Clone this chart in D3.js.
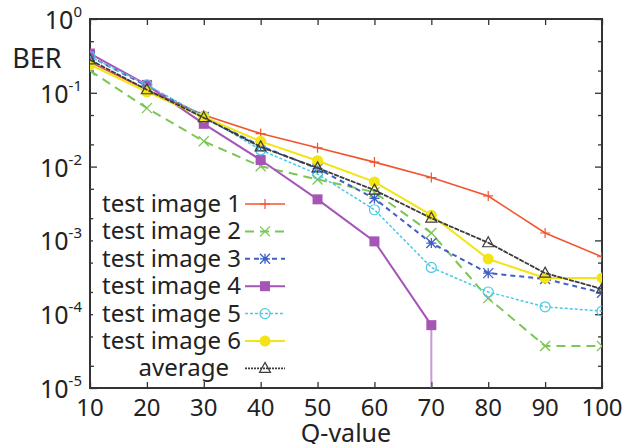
<!DOCTYPE html>
<html>
<head>
<meta charset="utf-8">
<script src="https://cdn.jsdelivr.net/npm/d3@7"></script>
<style>
  body { margin: 0; background: #fff; }
  svg text { font-family: "Noto Sans", "Open Sans", sans-serif; fill: #222; }
</style>
</head>
<body>
<svg id="chart"></svg>
<script>
const qValues = [10, 20, 30, 40, 50, 60, 70, 80, 90, 100];
const seriesNames = ['test image 1', 'test image 2', 'test image 3', 'test image 4',
  'test image 5', 'test image 6', 'average'];
const image1 = [0.26, 0.11, 0.05, 0.028, 0.018, 0.0115, 0.0071, 0.004, 0.00126, 0.0006];
const image2 = [0.2, 0.062, 0.022, 0.0101, 0.0067, 0.0045, 0.00126, 0.000165, 0.000037, 0.000037];
const image3 = [0.31, 0.124, 0.047, 0.019, 0.0094, 0.0037, 0.00092, 0.00036, 0.0003, 0.000195];
const image4 = [0.34, 0.128, 0.038, 0.0123, 0.0036, 0.00097, 0.000071, 0, 0, 0];
const image5 = [0.31, 0.128, 0.048, 0.0168, 0.0079, 0.0026, 0.00043, 0.0002, 0.000126, 0.00011];
const image6 = [0.24, 0.103, 0.047, 0.022, 0.012, 0.0062, 0.0022, 0.00056, 0.00031, 0.00031];
const average = [0.28, 0.11, 0.046, 0.0185, 0.0096, 0.0048, 0.002, 0.00093, 0.00036, 0.00022];
const decadeTicks = [1e-5, 1e-4, 1e-3, 1e-2, 1e-1, 1];
const decadeExponents = ['-5', '-4', '-3', '-2', '-1', '0'];
const minorTicks = [2e-5, 5e-5, 2e-4, 5e-4, 2e-3, 5e-3, 2e-2, 5e-2, 0.2, 0.5];

const width = 625;
const height = 444;
const plot = { left: 90, right: 602, top: 19, bottom: 388 };

const styles = [
  { color: '#f2542f', dash: null, w: 1.6, marker: 'plus' },
  { color: '#7cc655', dash: '9,6', w: 2, marker: 'cross' },
  { color: '#3f5fc2', dash: '5,4', w: 2, marker: 'star' },
  { color: '#a555b5', dash: null, w: 2, marker: 'square' },
  { color: '#4cc8e2', dash: '3,2', w: 1.5, marker: 'circle' },
  { color: '#f2e416', dash: null, w: 2, marker: 'dot' },
  { color: '#3c3c3c', dash: '5,1', w: 1.8, marker: 'triangle' },
];
const allSeries = [image1, image2, image3, image4, image5, image6, average];

const svg = d3.select('#chart').attr('width', width).attr('height', height);

const x = d3.scaleLinear().domain([10, 100]).range([plot.left, plot.right]);
const y = d3.scaleLog().domain([1e-5, 1]).range([plot.bottom, plot.top]);

svg.append('clipPath').attr('id', 'clip')
  .append('rect')
  .attr('x', plot.left).attr('y', plot.top)
  .attr('width', plot.right - plot.left).attr('height', plot.bottom - plot.top);

// ---------------------------------------------------------------------------
//      axes (inward ticks on all four sides)
// ---------------------------------------------------------------------------
function styleAxis(g) {
  g.select('.domain').remove();
  g.selectAll('line').attr('stroke', '#333').attr('stroke-width', 1.3);
}

svg.append('g').attr('transform', `translate(0,${plot.bottom})`)
  .call(d3.axisBottom(x).tickValues(qValues).tickSize(-6).tickFormat(''))
  .call(styleAxis);
svg.append('g').attr('transform', `translate(0,${plot.top})`)
  .call(d3.axisTop(x).tickValues(qValues).tickSize(-6).tickFormat(''))
  .call(styleAxis);
[['left', plot.left, d3.axisLeft], ['right', plot.right, d3.axisRight]].forEach(function (a) {
  svg.append('g').attr('transform', `translate(${a[1]},0)`)
    .call(a[2](y).tickValues(decadeTicks).tickSize(-7).tickFormat(''))
    .call(styleAxis);
  svg.append('g').attr('transform', `translate(${a[1]},0)`)
    .call(a[2](y).tickValues(minorTicks).tickSize(-4).tickFormat(''))
    .call(styleAxis);
});

svg.append('rect')
  .attr('x', plot.left).attr('y', plot.top)
  .attr('width', plot.right - plot.left).attr('height', plot.bottom - plot.top)
  .attr('fill', 'none').attr('stroke', '#333').attr('stroke-width', 2);

// x tick labels
svg.append('g').selectAll('text')
  .data(qValues).enter()
  .append('text')
  .attr('x', d => x(d))
  .attr('y', 416)
  .attr('text-anchor', 'middle')
  .attr('font-size', 24)
  .text(d => d);

// y tick labels: 10 with superscript exponent
const yLabels = svg.append('g').selectAll('text')
  .data(decadeTicks).enter()
  .append('text')
  .attr('x', 82)
  .attr('y', d => y(d) + 10)
  .attr('text-anchor', 'end')
  .attr('font-size', 25);
yLabels.append('tspan').text('10');
yLabels.append('tspan')
  .attr('dy', -12)
  .attr('font-size', 15)
  .text((d, i) => decadeExponents[i]);

svg.append('text').attr('x', 37).attr('y', 68)
  .attr('text-anchor', 'middle').attr('font-size', 27).text('BER');
svg.append('text').attr('x', 346).attr('y', 442)
  .attr('text-anchor', 'middle').attr('font-size', 25).text('Q-value');

// ---------------------------------------------------------------------------
//      markers
// ---------------------------------------------------------------------------
function drawMarker(g, type, cx, cy, color) {
  const s = 5;
  if (type === 'plus') {
    g.append('path').attr('d', `M${cx - s} ${cy}H${cx + s}M${cx} ${cy - s}V${cy + s}`)
      .attr('stroke', color).attr('stroke-width', 1.2);
  } else if (type === 'cross') {
    g.append('path').attr('d', `M${cx - s} ${cy - s}L${cx + s} ${cy + s}M${cx - s} ${cy + s}L${cx + s} ${cy - s}`)
      .attr('stroke', color).attr('stroke-width', 1.3);
  } else if (type === 'star') {
    g.append('path').attr('d', `M${cx - s} ${cy - s}L${cx + s} ${cy + s}M${cx - s} ${cy + s}L${cx + s} ${cy - s}M${cx - s} ${cy}H${cx + s}M${cx} ${cy - s}V${cy + s}`)
      .attr('stroke', color).attr('stroke-width', 1.3);
  } else if (type === 'square') {
    g.append('rect').attr('x', cx - 5).attr('y', cy - 5).attr('width', 10).attr('height', 10)
      .attr('fill', color);
  } else if (type === 'circle') {
    g.append('circle').attr('cx', cx).attr('cy', cy).attr('r', 5)
      .attr('fill', 'none').attr('stroke', color).attr('stroke-width', 1.2);
  } else if (type === 'dot') {
    g.append('circle').attr('cx', cx).attr('cy', cy).attr('r', 5.5).attr('fill', color);
  } else if (type === 'triangle') {
    g.append('path').attr('d', `M${cx} ${cy - 6}L${cx + 5.5} ${cy + 4}L${cx - 5.5} ${cy + 4}Z`)
      .attr('fill', 'none').attr('stroke', color).attr('stroke-width', 1.2);
  }
}

// ---------------------------------------------------------------------------
//      series
// ---------------------------------------------------------------------------
const line = d3.line()
  .defined(d => d.v > 0)
  .x(d => x(d.q))
  .y(d => y(d.v));

const plotArea = svg.append('g').attr('clip-path', 'url(#clip)');

allSeries.forEach(function (values, idx) {
  const st = styles[idx];
  const pts = values.map((v, i) => ({ q: qValues[i], v }));
  const g = plotArea.append('g');
  g.append('path')
    .attr('d', line(pts))
    .attr('fill', 'none')
    .attr('stroke', st.color)
    .attr('stroke-width', st.w)
    .attr('stroke-dasharray', st.dash);
  // BER of zero: the line drops to the bottom of the log axis
  pts.forEach(function (p, i) {
    if (p.v === 0 && i > 0 && pts[i - 1].v > 0) {
      g.append('line')
        .attr('x1', x(pts[i - 1].q)).attr('x2', x(pts[i - 1].q))
        .attr('y1', y(pts[i - 1].v)).attr('y2', plot.bottom)
        .attr('stroke', st.color).attr('stroke-width', st.w).attr('opacity', 0.6);
    }
  });
  pts.filter(p => p.v > 0).forEach(function (p) {
    drawMarker(g, st.marker, x(p.q), y(p.v), st.color);
  });
});

// ---------------------------------------------------------------------------
//      legend
// ---------------------------------------------------------------------------
const legend = svg.append('g');
seriesNames.forEach(function (name, idx) {
  const st = styles[idx];
  const ly = 204 + idx * 27.4;
  legend.append('rect')
    .attr('x', idx === 6 ? 155 : 93).attr('y', ly - 13)
    .attr('width', idx === 6 ? 90 : 152).attr('height', 26)
    .attr('fill', '#fff');
  legend.append('text')
    .attr('x', idx === 6 ? 229 : 241)
    .attr('y', ly + 8)
    .attr('text-anchor', 'end')
    .attr('font-size', 24)
    .text(name);
  legend.append('line')
    .attr('x1', 245).attr('x2', 285)
    .attr('y1', ly).attr('y2', ly)
    .attr('stroke', st.color)
    .attr('stroke-width', st.w)
    .attr('stroke-dasharray', idx === 6 ? '2,1' : st.dash);
  drawMarker(legend, st.marker, 265, ly, st.color);
});
</script>
</body>
</html>
